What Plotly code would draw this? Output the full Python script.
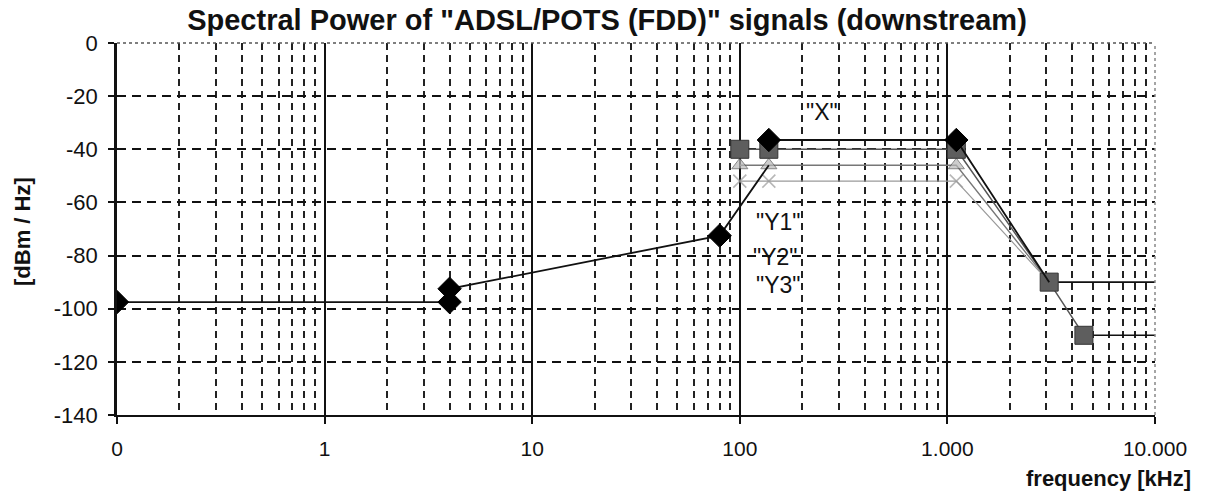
import math
import plotly.graph_objects as go

# ---- data ----
base_freq = [0.1, 4, 4, 80, 138]
base_psd = [-97.5, -97.5, -92.5, -72.5, -46]

x_freq = [138, 1104, 3093]
x_psd = [-36.5, -36.5, -90]

y1_freq = [100, 138, 1104, 3093, 4545]
y1_psd = [-40, -40, -40, -90, -110]

y1_tail_freq = [3093, 10000, None, 4545, 10000]
y1_tail_psd = [-90, -90, None, -110, -110]

y2_freq = [100, 138, 1104, 3093]
y2_psd = [-46, -46, -46, -90]

y3_freq = [100, 138, 1104, 3093]
y3_psd = [-52, -52, -52, -90]

label_text = ['"X"', '"Y1"', '"Y2"', '"Y3"']
label_freq = [250, 152, 148, 152]
label_psd = [-26, -67.5, -80.5, -91]

x_tickvals = [0.1, 1, 10, 100, 1000, 10000]
x_ticktext = ["0", "1", "10", "100", "1.000", "10.000"]
y_tickvals = [0, -20, -40, -60, -80, -100, -120, -140]
y_ticktext = ["0", "-20", "-40", "-60", "-80", "-100", "-120", "-140"]

FONT = "Liberation Sans, Arial, sans-serif"
L, R, T, B = 117, 51, 43, 80
W, H = 1206, 495
PW, PH = W - L - R, H - T - B

fig = go.Figure()

fig.add_trace(go.Scatter(x=y3_freq, y=y3_psd, mode="lines+markers",
                         line=dict(color="#9a9a9a", width=1.2),
                         marker=dict(symbol="x-thin", size=[13, 13, 13, 0], color="#9a9a9a",
                                     line=dict(width=1.6, color="#9a9a9a")),
                         showlegend=False))
fig.add_trace(go.Scatter(x=y2_freq, y=y2_psd, mode="lines+markers",
                         line=dict(color="#777777", width=1.3),
                         marker=dict(symbol="triangle-up", size=[14, 14, 14, 0], color="#b8b8b8",
                                     line=dict(width=1, color="#555555")),
                         showlegend=False))
fig.add_trace(go.Scatter(x=y1_tail_freq, y=y1_tail_psd, mode="lines",
                         line=dict(color="#111111", width=1.6),
                         showlegend=False))
fig.add_trace(go.Scatter(x=y1_freq, y=y1_psd, mode="lines+markers",
                         line=dict(color="#555555", width=1.5),
                         marker=dict(symbol="square", size=18, color="#5e5e5e",
                                     line=dict(width=1, color="#333333")),
                         showlegend=False))
fig.add_trace(go.Scatter(x=x_freq, y=x_psd, mode="lines+markers",
                         line=dict(color="#111111", width=1.8),
                         marker=dict(symbol="diamond", size=[18, 18, 0], color="#000000",
                                     opacity=1, line=dict(width=1, color="#000000")),
                         showlegend=False))
fig.add_trace(go.Scatter(x=base_freq, y=base_psd, mode="lines+markers",
                         line=dict(color="#111111", width=1.8),
                         marker=dict(symbol="diamond", size=[18, 18, 18, 18, 0], color="#000000",
                                     opacity=1, line=dict(width=1, color="#000000")),
                         showlegend=False))

for t, fx, py in zip(label_text, label_freq, label_psd):
    fig.add_annotation(x=math.log10(fx), y=py, xref="x", yref="y", text=t, showarrow=False,
                       font=dict(family=FONT, size=23, color="#111111"))

fig.update_layout(
    width=W, height=H,
    margin=dict(l=L, r=R, t=T, b=B, autoexpand=False),
    paper_bgcolor="white", plot_bgcolor="white",
    font=dict(family=FONT, color="#111111"),
    title=dict(text='<b>Spectral Power of "ADSL/POTS (FDD)" signals (downstream)</b>',
               x=607 / W, xref="container", xanchor="center",
               y=1 - 20 / H, yref="container", yanchor="middle",
               font=dict(family=FONT, size=29, color="#111111")),
    xaxis=dict(type="log", range=[-1, 4], automargin=False,
               tickvals=x_tickvals, ticktext=x_ticktext,
               tickfont=dict(family=FONT, size=21, color="#111111"),
               ticks="outside", ticklen=7, tickcolor="#111111", tickwidth=1.5,
               ticklabelstandoff=7,
               showline=True, linecolor="#111111", linewidth=2, mirror=False,
               showgrid=True, gridcolor="#111111", gridwidth=1.8,
               minor=dict(dtick="D1", showgrid=True, gridcolor="#222222", gridwidth=1.6,
                          griddash="7px,5px", ticks=""),
               zeroline=False),
    yaxis=dict(range=[-140, 0], automargin=False,
               tickvals=y_tickvals, ticktext=y_ticktext,
               tickfont=dict(family=FONT, size=22, color="#111111"),
               ticks="outside", ticklen=6, tickcolor="#111111", tickwidth=1.5,
               ticklabelstandoff=6,
               showline=True, linecolor="#111111", linewidth=2.5,
               showgrid=True, gridcolor="#111111", gridwidth=1.5, griddash="9px,6px",
               zeroline=False),
    shapes=[
        dict(type="line", xref="paper", yref="paper", x0=0, x1=1, y0=1, y1=1,
             line=dict(color="#555555", width=1.5, dash="dot")),
        dict(type="line", xref="paper", yref="paper", x0=1, x1=1, y0=0, y1=1,
             line=dict(color="#888888", width=1.5, dash="dot")),
    ],
)

# y axis title placed as annotation (pixel-accurate)
fig.add_annotation(x=-(L - 22) / PW, y=(415 - 232) / PH, xref="paper", yref="paper",
                   text="<b>[dBm / Hz]</b>", textangle=-90, showarrow=False,
                   xanchor="center", yanchor="middle",
                   font=dict(family=FONT, size=22, color="#111111"))
# x axis title bottom right
fig.add_annotation(x=(1193 - L) / PW, y=-(478 - 415) / PH, xref="paper", yref="paper",
                   text="<b>frequency [kHz]</b>", showarrow=False,
                   xanchor="right", yanchor="middle",
                   font=dict(family=FONT, size=22, color="#111111"))

fig.write_html("out.html", config={"displayModeBar": False},
               post_script="document.body.style.margin='0px';document.body.style.overflow='hidden';")
